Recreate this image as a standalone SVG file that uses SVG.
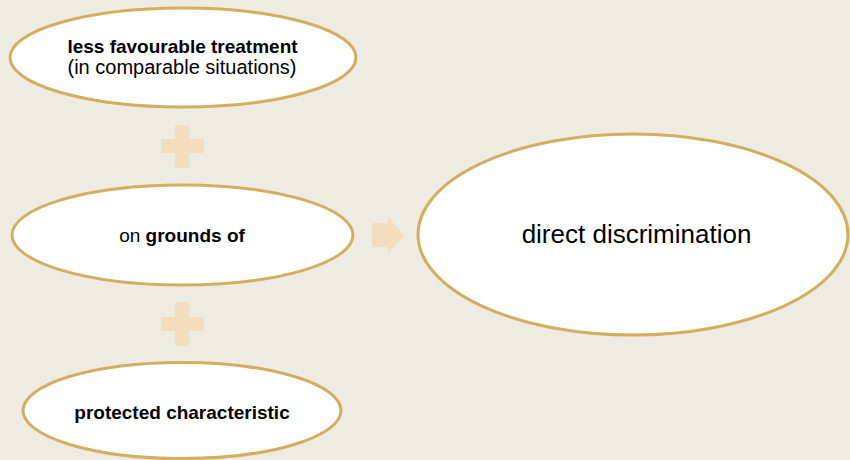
<svg xmlns="http://www.w3.org/2000/svg" width="850" height="460" viewBox="0 0 850 460">
<style>
.node{fill:#FFFFFF;stroke:#D3AE5E;stroke-width:3}
.plus{fill:#F2DEBD}
text{font-family:"Liberation Sans",Arial,sans-serif;fill:#000000;text-anchor:middle}
.b{font-weight:bold}
</style>
<rect x="0" y="0" width="850" height="460" fill="#EEEBE3"/>
<g id="connectors">
<path class="plus" d="M175,125H189V139H204V153H189V168H175V153H161V139H175Z"/>
<path class="plus" d="M175,302H189V317H204V331H189V346H175V331H161V317H175Z"/>
<path class="plus" d="M372,223H388V217L404,235.5L388,254V247H372Z"/>
</g>
<g id="n1">
<ellipse class="node" cx="183" cy="57.5" rx="173" ry="49.5"/>
<text x="182.5" y="53" font-size="19" class="b">less favourable treatment</text>
<text x="182" y="74" font-size="20">(in comparable situations)</text>
</g>
<g id="n2">
<ellipse class="node" cx="182.5" cy="235" rx="170.5" ry="50"/>
<text x="182" y="242" font-size="19">on <tspan class="b">grounds of</tspan></text>
</g>
<g id="n3">
<ellipse class="node" cx="182" cy="410.5" rx="159" ry="48"/>
<text x="182" y="419" font-size="19" class="b">protected characteristic</text>
</g>
<g id="n4">
<ellipse class="node" cx="633" cy="234.5" rx="215" ry="100.5"/>
<text x="636.5" y="243" font-size="26">direct discrimination</text>
</g>
</svg>
